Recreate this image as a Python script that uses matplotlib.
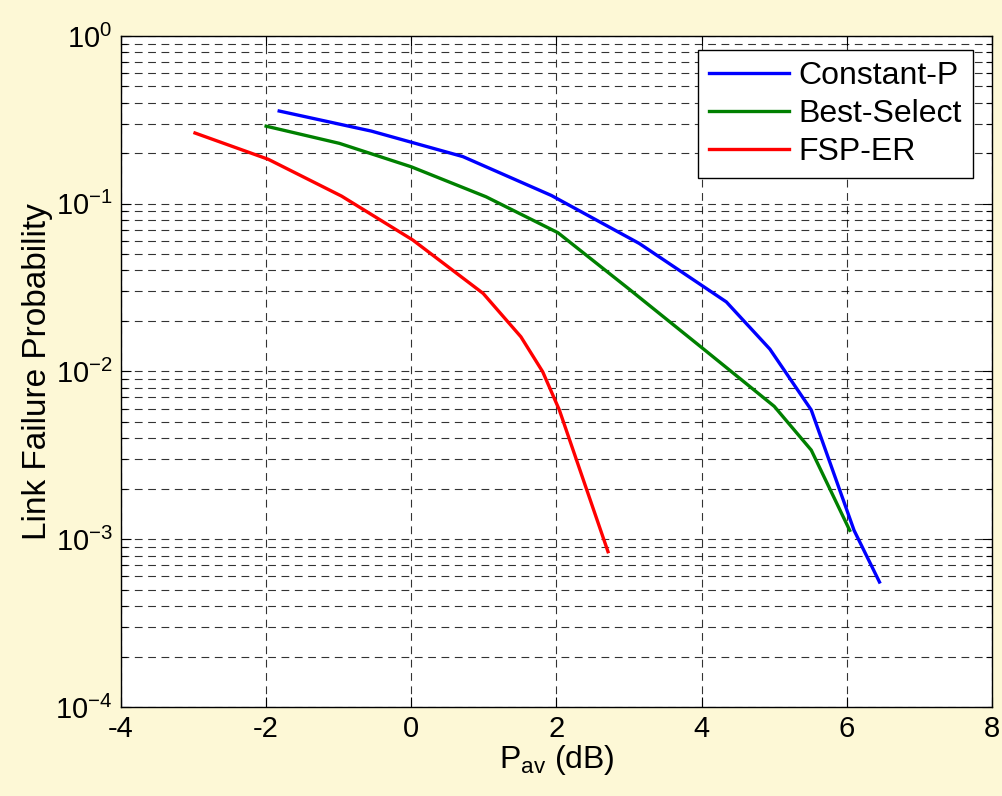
import matplotlib
matplotlib.use('Agg')
from matplotlib import pyplot as plt
from matplotlib.ticker import LogLocator, LogFormatterMathtext, NullFormatter
import numpy as np

plt.rcParams['font.family'] = ['Liberation Sans', 'DejaVu Sans']
plt.rcParams['mathtext.fontset'] = 'custom'
plt.rcParams['mathtext.rm'] = 'Liberation Sans'
plt.rcParams['mathtext.it'] = 'Liberation Sans'
plt.rcParams['axes.unicode_minus'] = False

# data
const_x = [-1.82, -0.55, 0.71, 1.93, 3.14, 4.34, 4.94, 5.51, 6.10, 6.45]
const_y = [0.357, 0.271, 0.191, 0.112, 0.058, 0.026, 0.0136, 0.0059, 0.00113, 0.000556]

best_x = [-2.0, -0.99, 0.0, 1.03, 2.02, 3.0, 4.0, 5.0, 5.51, 6.04]
best_y = [0.29, 0.229, 0.166, 0.110, 0.0672, 0.031, 0.0139, 0.0062, 0.0034, 0.00113]

fsp_x = [-2.98, -1.97, -0.96, 0.02, 0.99, 1.51, 1.81, 2.04, 2.71]
fsp_y = [0.264, 0.184, 0.111, 0.0608, 0.0292, 0.0161, 0.00997, 0.00589, 0.000843]

bg = '#fdf8d6'
fig = plt.figure(figsize=(10.03, 7.96), dpi=100, facecolor=bg)
ax = fig.add_axes([0.1206, 0.1118, 0.8684, 0.843])

ax.semilogy(const_x, const_y, color='#0000ff', lw=2.4, label='Constant-P')
ax.semilogy(best_x, best_y, color='#008000', lw=2.4, label='Best-Select')
ax.semilogy(fsp_x, fsp_y, color='#ff0000', lw=2.4, label='FSP-ER')

ax.set_xlim(-4, 8)
ax.set_ylim(1e-4, 1)
ax.set_xticks(np.arange(-4, 9, 2))
ax.yaxis.set_major_locator(LogLocator(base=10, numticks=10))
ax.yaxis.set_major_formatter(LogFormatterMathtext())
ax.yaxis.set_minor_locator(LogLocator(base=10, subs=np.arange(2, 10), numticks=20))
ax.yaxis.set_minor_formatter(NullFormatter())

ax.tick_params(which='both', direction='in', top=True, right=True, labelsize=21)
ax.tick_params(which='major', length=7, width=0.8)
ax.tick_params(which='minor', length=4, width=0.8)
ax.tick_params(axis='x', pad=6)
ax.tick_params(axis='y', pad=6)

ax.grid(True, which='major', axis='both', color='black', linestyle=(0, (7, 5)), lw=0.8, alpha=0.8)
ax.grid(True, which='minor', axis='y', color='black', linestyle=(0, (7, 5)), lw=0.8, alpha=0.8)

for s in ax.spines.values():
    s.set_linewidth(1.0)

ax.set_xlabel(r'P$_{\rm av}$ (dB)', fontsize=23, labelpad=0)
ax.set_ylabel('Link Failure Probability', fontsize=24, labelpad=2)

leg = ax.legend(loc='upper right', bbox_to_anchor=(0.978, 0.979), borderaxespad=0,
                fontsize=23, fancybox=False, framealpha=1, edgecolor='black',
                handlelength=2.5, handletextpad=0.3, borderpad=0.35, labelspacing=0.25)
leg.get_frame().set_linewidth(1.0)

fig.savefig('out.png', dpi=100, facecolor=bg)
